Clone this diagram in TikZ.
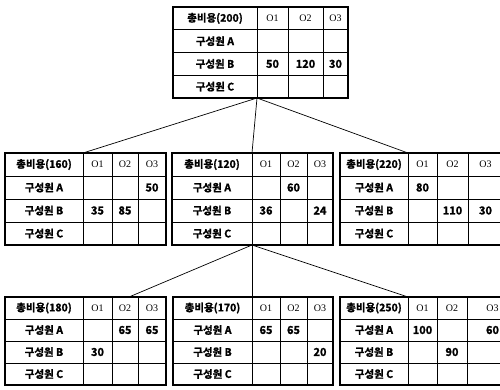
\documentclass[tikz,border=0pt]{standalone}
\usepackage{fontspec}
\newfontfamily\kfont{Noto Sans CJK KR Bold}[FakeBold=1.2]
\newfontfamily\ofont{Liberation Serif}
\tikzset{
  outer/.style={line width=1.6pt},
  inner/.style={line width=0.8pt},
  link/.style={line width=0.7pt},
  lbl/.style={font=\kfont\fontsize{10.5}{10}\selectfont, inner sep=0pt},
  hdr/.style={font=\ofont\fontsize{10}{10}\selectfont, inner sep=0pt},
  val/.style={font=\kfont\fontsize{11}{10}\selectfont, inner sep=0pt},
}
% #1 name, #2 x0, #3 xa, #4 xb, #5 xc, #6 xd, #7 y0, #8 y4, #9 total
\newcommand\ktable[9]{%
  \pgfmathsetmacro\kh{(#8-#7)/4}%
  \draw[inner] (#3,#7) -- (#3,#8) (#4,#7) -- (#4,#8) (#5,#7) -- (#5,#8);
  \foreach \j in {1,2,3} {\draw[inner] (#2,{#7+\j*\kh}) -- (#6,{#7+\j*\kh});}
  \node[outer, draw, inner sep=0pt, minimum width={(#6-#2)*1pt}, minimum height={(#8-#7)*1pt}] (#1) at ({(#2+#6)/2},{(#7+#8)/2}) {};
  \coordinate (#1-n) at (#3,#7);
  \coordinate (#1-s) at (#3,#8);
  \node[lbl] (#1-t) at ({(#2+#3)/2},{#7+0.5*\kh}) {총비용(#9)};
  \node[lbl] (#1-ra) at ({(#2+#3)/2},{#7+1.5*\kh}) {구성원 A};
  \node[lbl] (#1-rb) at ({(#2+#3)/2},{#7+2.5*\kh}) {구성원 B};
  \node[lbl] (#1-rc) at ({(#2+#3)/2},{#7+3.5*\kh}) {구성원 C};
  \node[hdr] (#1-h1) at ({(#3+#4)/2},{#7+0.5*\kh}) {O1};
  \node[hdr] (#1-h2) at ({(#4+#5)/2},{#7+0.5*\kh}) {O2};
  \node[hdr] (#1-h3) at ({(#5+#6)/2},{#7+0.5*\kh}) {O3};
  \foreach \r in {1,2,3}{%
    \coordinate (#1-\r-1) at ({(#3+#4)/2},{#7+(\r+0.5)*\kh});
    \coordinate (#1-\r-2) at ({(#4+#5)/2},{#7+(\r+0.5)*\kh});
    \coordinate (#1-\r-3) at ({(#5+#6)/2},{#7+(\r+0.5)*\kh});
  }%
}
\begin{document}
\begin{tikzpicture}[x=1pt,y=-1pt]
\useasboundingbox (0,0) rectangle (500,390);
\ktable{top}{173}{257}{288}{323}{348}{7}{98}{200}
\ktable{ml}{5}{83}{112}{138}{166}{153}{245}{160}
\ktable{mm}{172}{252}{280}{307}{333}{153}{245}{120}
\ktable{mr}{340}{408}{437}{468}{503}{153}{245}{220}
\ktable{bl}{5}{83}{112}{138}{166}{297}{385}{180}
\ktable{bm}{173}{252}{280}{307}{333}{297}{385}{170}
\ktable{br}{340}{408}{437}{467}{518}{297}{385}{250}
% values
\node[val] (top-v1) at (top-2-1) {50};
\node[val] (top-v2) at (top-2-2) {120};
\node[val] (top-v3) at (top-2-3) {30};
\node[val] (ml-v1) at (ml-1-3) {50};
\node[val] (ml-v2) at (ml-2-1) {35};
\node[val] (ml-v3) at (ml-2-2) {85};
\node[val] (mm-v1) at (mm-1-2) {60};
\node[val] (mm-v2) at (mm-2-1) {36};
\node[val] (mm-v3) at (mm-2-3) {24};
\node[val] (mr-v1) at (mr-1-1) {80};
\node[val] (mr-v2) at (mr-2-2) {110};
\node[val] (mr-v3) at (mr-2-3) {30};
\node[val] (bl-v1) at (bl-1-2) {65};
\node[val] (bl-v2) at (bl-1-3) {65};
\node[val] (bl-v3) at (bl-2-1) {30};
\node[val] (bm-v1) at (bm-1-1) {65};
\node[val] (bm-v2) at (bm-1-2) {65};
\node[val] (bm-v3) at (bm-2-3) {20};
\node[val] (br-v1) at (br-1-1) {100};
\node[val] (br-v2) at (br-1-3) {60};
\node[val] (br-v3) at (br-2-2) {90};
% connectors
\coordinate (bl-in) at (129,297);
\draw[link] (top-s) -- (ml-n);
\draw[link] (top-s) -- (mm-n);
\draw[link] (top-s) -- (mr-n);
\draw[link] (mm-s) -- (bl-in);
\draw[link] (mm-s) -- (bm-n);
\draw[link] (mm-s) -- (br-n);
\end{tikzpicture}
\end{document}
